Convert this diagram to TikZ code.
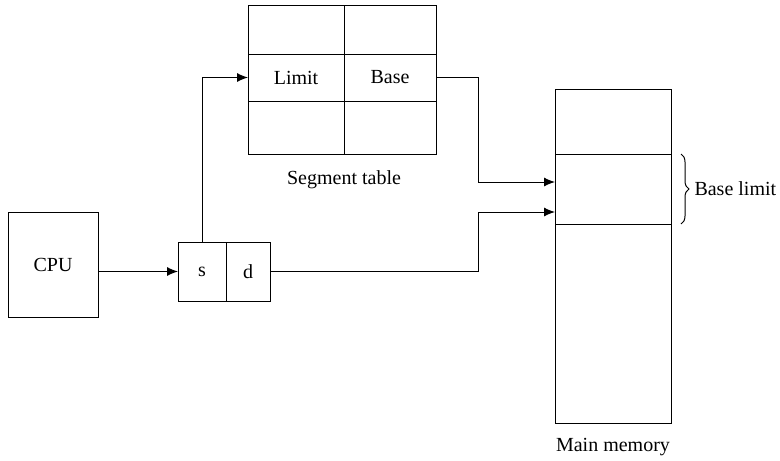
\documentclass[tikz,border=0pt]{standalone}
\usepackage{fontspec}
\setmainfont{Liberation Serif}
\usepackage{tikz}
\usetikzlibrary{arrows.meta,positioning,decorations.pathreplacing}
\tikzset{
  cell/.style={draw=black, line width=1pt, fill=white, inner sep=0pt, outer sep=0pt,
               font=\fontsize{20}{23}\selectfont},
  arrow/.style={-{Latex[length=11pt,width=9pt]}, line width=1pt},
  plain/.style={line width=1pt},
  caption/.style={font=\fontsize{20}{23}\selectfont, inner sep=0pt}
}

\begin{document}
\begin{tikzpicture}[x=1pt, y=-1pt]
  \useasboundingbox (0,0) rectangle (780,461);
  % cpu and logical address
  \node[cell, minimum width=90pt, minimum height=105pt] (cpu) at (53,264.5) {CPU};
  \node[cell, minimum width=48pt, minimum height=59pt] (s) at (202,271.5) {s};
  \node[cell, minimum width=44pt, minimum height=59pt, right=0pt of s] (d) {d};
  % segment table
  \node[cell, minimum width=96pt, minimum height=49pt] (t11) at (296,29.5) {};
  \node[cell, minimum width=92pt, minimum height=49pt, right=0pt of t11] (t12) {};
  \node[cell, minimum width=96pt, minimum height=47pt, below=0pt of t11] (lim) {Limit};
  \node[cell, minimum width=92pt, minimum height=47pt, right=0pt of lim] (base) {Base};
  \node[cell, minimum width=96pt, minimum height=53pt, below=0pt of lim] (t31) {};
  \node[cell, minimum width=92pt, minimum height=53pt, right=0pt of t31] (t32) {};
  \node[caption, below=16pt of t31.south east] (stab) {Segment table};
  % main memory
  \node[cell, minimum width=116pt, minimum height=65pt] (m1) at (613,121.5) {};
  \node[cell, minimum width=116pt, minimum height=70pt, below=0pt of m1] (m2) {};
  \node[cell, minimum width=116pt, minimum height=199pt, below=0pt of m2] (m3) {};
  \node[caption, below=15pt of m3] (mmem) {Main memory};
  \coordinate (in1) at ([yshift=7pt]m2.west);
  \coordinate (in2) at ([yshift=-23pt]m2.west);
  \coordinate (bt) at ([xshift=10pt]m2.north east);
  \coordinate (bb) at ([xshift=10pt]m2.south east);
  \draw[plain, decorate, decoration={brace, amplitude=8pt}] (bt) -- (bb)
    node[caption, midway, right=13pt] (blim) {Base limit};
  % connectors
  \draw[arrow] (cpu.east |- s.west) -- (s.west);
  \draw[arrow] (s.north) |- (lim.west);
  \draw[arrow] (base.east) -- ++(42,0) |- (in1);
  \draw[arrow] (d.east) -- ++(208,0) |- (in2);
\end{tikzpicture}
\end{document}
